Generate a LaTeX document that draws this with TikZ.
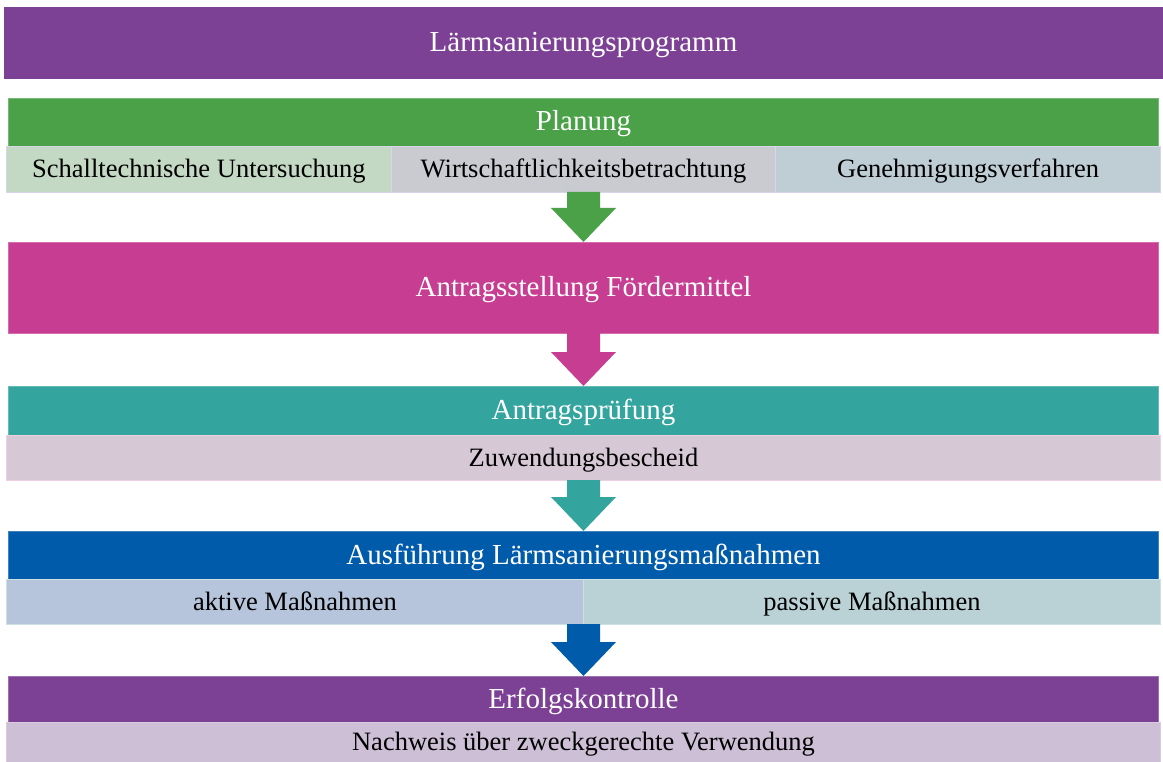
\documentclass[tikz,border=0pt]{standalone}
\usepackage{fontspec}
\setmainfont{Liberation Serif}
\usetikzlibrary{positioning,calc}
\usepackage{xcolor}

\definecolor{progpurple}{RGB}{124,65,148}
\definecolor{plangreen}{RGB}{74,161,71}
\definecolor{antragmag}{RGB}{198,61,145}
\definecolor{prueftea}{RGB}{51,165,158}
\definecolor{ausfblue}{RGB}{0,91,170}
\definecolor{schallc}{RGB}{195,217,196}
\definecolor{wirtc}{RGB}{202,203,208}
\definecolor{genehmc}{RGB}{191,205,213}
\definecolor{zuwendc}{RGB}{215,200,214}
\definecolor{aktivc}{RGB}{183,197,220}
\definecolor{passivc}{RGB}{186,210,214}
\definecolor{nachweisc}{RGB}{204,191,214}
\definecolor{cellline}{RGB}{214,214,234}
\definecolor{zuwendline}{RGB}{239,207,226}
\definecolor{massline}{RGB}{205,225,228}

% block arrow from the bottom of one row to the top of the next bar
\newcommand{\flowarrow}[3]{%
  \fill[#3] let \p1=(#1.south), \p2=(#2.north) in
    (\x2-16.5pt,\y1) -- (\x2+16.5pt,\y1) -- (\x2+16.5pt,\y2+34pt)
    -- (\x2+32.5pt,\y2+34pt) -- (\x2,\y2) -- (\x2-32.5pt,\y2+34pt)
    -- (\x2-16.5pt,\y2+34pt) -- cycle;}

\begin{document}
\begin{tikzpicture}[
      x=1pt, y=-1pt,
      phase/.style={rectangle, draw=#1!75!white, line width=0.7pt, fill=#1, text=white,
        minimum width=1150pt, inner sep=0pt, outer sep=0pt, text height=18pt, text depth=0pt,
        font=\fontsize{29}{34}\selectfont},
      sub/.style={rectangle, line width=0.8pt, text=black, minimum height=45pt,
        inner sep=0pt, outer sep=0pt, text height=17pt, text depth=0pt,
        font=\fontsize{26.5}{31}\selectfont}
  ]
      \useasboundingbox (0,0) rectangle (1163,762);

      % Nodes - stacked phases with their sub rows
      \node (prog) [phase=progpurple, draw=none, minimum width=1159pt, minimum height=72pt] at (583.5,43) {Lärmsanierungsprogramm};

      \node (planung) [phase=plangreen, minimum height=48pt, below=19pt of prog] {Planung};
      \node (schall) [sub, fill=schallc, draw=cellline, minimum width=384.67pt, minimum height=46pt,
        below=0pt of planung.south west, anchor=north west, xshift=-2pt] {Schalltechnische Untersuchung};
      \node (wirt) [sub, fill=wirtc, draw=cellline, minimum width=384.67pt, minimum height=46pt, right=0pt of schall] {Wirtschaftlichkeitsbetrachtung};
      \node (genehm) [sub, fill=genehmc, draw=cellline, minimum width=384.67pt, minimum height=46pt, right=0pt of wirt] {Genehmigungsverfahren};

      \node (antrag) [phase=antragmag, minimum height=91pt, below=50pt of wirt] {Antragsstellung Fördermittel};

      \node (pruef) [phase=prueftea, minimum height=49pt, below=53pt of antrag] {Antragsprüfung};
      \node (zuwend) [sub, fill=zuwendc, draw=zuwendline, minimum width=1154pt, below=0pt of pruef] {Zuwendungsbescheid};

      \node (ausf) [phase=ausfblue, minimum height=48pt, below=51pt of zuwend] {Ausführung Lärmsanierungsmaßnahmen};
      \node (aktiv) [sub, fill=aktivc, draw=massline, minimum width=577pt,
        below=0pt of ausf.south west, anchor=north west, xshift=-2pt] {aktive Maßnahmen};
      \node (passiv) [sub, fill=passivc, draw=massline, minimum width=577pt, right=0pt of aktiv] {passive Maßnahmen};

      \node (erfolg) [phase=progpurple, minimum height=46pt, below=52pt of aktiv.south east] {Erfolgskontrolle};
      \node (nachweis) [sub, fill=nachweisc, draw=nachweisc!80!white, minimum width=1154pt, minimum height=40pt, below=0pt of erfolg] {Nachweis über zweckgerechte Verwendung};

      % Block arrows between the phases
      \flowarrow{wirt}{antrag}{plangreen}
      \flowarrow{antrag}{pruef}{antragmag}
      \flowarrow{zuwend}{ausf}{prueftea}
      \flowarrow{aktiv}{erfolg}{ausfblue}
  \end{tikzpicture}
\end{document}
